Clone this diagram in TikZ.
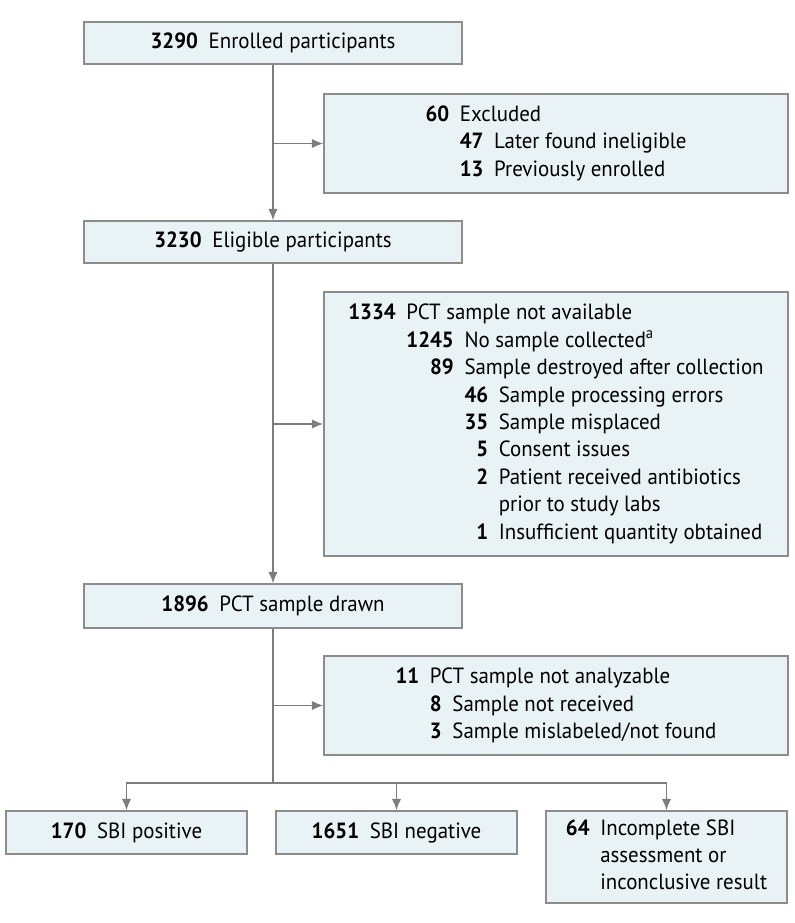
\documentclass[tikz,border=0pt]{standalone}
\usepackage{fontspec}
\setmainfont{PT Sans}[FakeStretch=0.95]
\usepackage{tikz}
\usetikzlibrary{arrows}
\usetikzlibrary{arrows.meta}

\definecolor{boxfill}{HTML}{E9F2F4}
\definecolor{boxline}{HTML}{8C8C8C}
\definecolor{linegray}{HTML}{7D7D7D}
\newcommand{\nb}[1]{\textbf{#1}}
\newcommand{\gp}{@{\hspace{8pt}}}
\newcommand{\spn}[2]{\multicolumn{#1}{@{}l@{}}{#2}}

\tikzset{
    flowbox/.style={draw=boxline, fill=boxfill, line width=1.1pt, rectangle,
        inner sep=0pt, align=center, font=\fontsize{16.5}{20.6}\selectfont},
    conn/.style={draw=linegray, line width=1.1pt, -{Latex[length=8.5pt,width=7pt]}}
}

\begin{document}
\begin{tikzpicture}[x=0.75pt, y=-0.75pt]
        \useasboundingbox (0,0) rectangle (794,923);
        \node[flowbox, minimum width=283.5pt, minimum height=31.5pt] (enrolled) at (273,43) {\nb{3290}\hspace{8pt}Enrolled participants};
        \node[flowbox, minimum width=348pt, minimum height=74.25pt] (excluded) at (556,143.5) {%
            \begin{tabular}{@{}r\gp r\gp l@{}}
            \nb{60} & \spn{2}{Excluded}\\
             & \nb{47} & Later found ineligible\\
             & \nb{13} & Previously enrolled
            \end{tabular}};
        \node[flowbox, minimum width=283.5pt, minimum height=31.5pt] (eligible) at (273,242) {\nb{3230}\hspace{8pt}Eligible participants};
        \node[flowbox, minimum width=348pt, minimum height=198pt] (pctna) at (556,424) {%
            \begin{tabular}{@{}r\gp r\gp r\gp l@{}}
            \nb{1334} & \spn{3}{PCT sample not available}\\
             & \nb{1245} & \spn{2}{No sample collected\textsuperscript{a}}\\
             & \nb{89} & \spn{2}{Sample destroyed after collection}\\
             & & \nb{46} & Sample processing errors\\
             & & \nb{35} & Sample misplaced\\
             & & \nb{5} & Consent issues\\
             & & \nb{2} & Patient received antibiotics\\
             & & & prior to study labs\\
             & & \nb{1} & Insufficient quantity obtained
            \end{tabular}};
        \node[flowbox, minimum width=283.5pt, minimum height=33pt] (drawn) at (273,606) {\nb{1896}\hspace{8pt}PCT sample drawn};
        \node[flowbox, minimum width=348pt, minimum height=74.25pt] (notanalyz) at (556,705.5) {%
            \begin{tabular}{@{}r\gp r\gp l@{}}
            \nb{11} & \spn{2}{PCT sample not analyzable}\\
             & \nb{8} & Sample not received\\
             & \nb{3} & Sample mislabeled/not found
            \end{tabular}};
        \node[flowbox, minimum width=180.75pt, minimum height=32.25pt] (sbipos) at (126.5,832.5) {\nb{170}\hspace{8pt}SBI positive};
        \node[flowbox, minimum width=180.75pt, minimum height=32.25pt] (sbineg) at (396.5,832.5) {\nb{1651}\hspace{8pt}SBI negative};
        \node[flowbox, minimum width=180.75pt, minimum height=69pt] (incompl) at (666.5,857) {%
            \begin{tabular}{@{}r\gp l@{}}
            \nb{64} & Incomplete SBI\\
             & assessment or\\
             & inconclusive result
            \end{tabular}};
        \coordinate (split) at (273,783);
        \draw[conn] (enrolled) -- (eligible);
        \draw[conn] (enrolled.south |- excluded.west) -- (excluded.west);
        \draw[conn] (eligible) -- (drawn);
        \draw[conn] (eligible.south |- pctna.west) -- (pctna.west);
        \draw[conn] (drawn.south |- notanalyz.west) -- (notanalyz.west);
        \draw[conn, -] (drawn.south) -- (split);
        \draw[conn] (split) -| (sbipos.north);
        \draw[conn] (split) -| (incompl.north);
        \draw[conn] (sbineg.north |- split) -- (sbineg.north);
    \end{tikzpicture}
\end{document}
